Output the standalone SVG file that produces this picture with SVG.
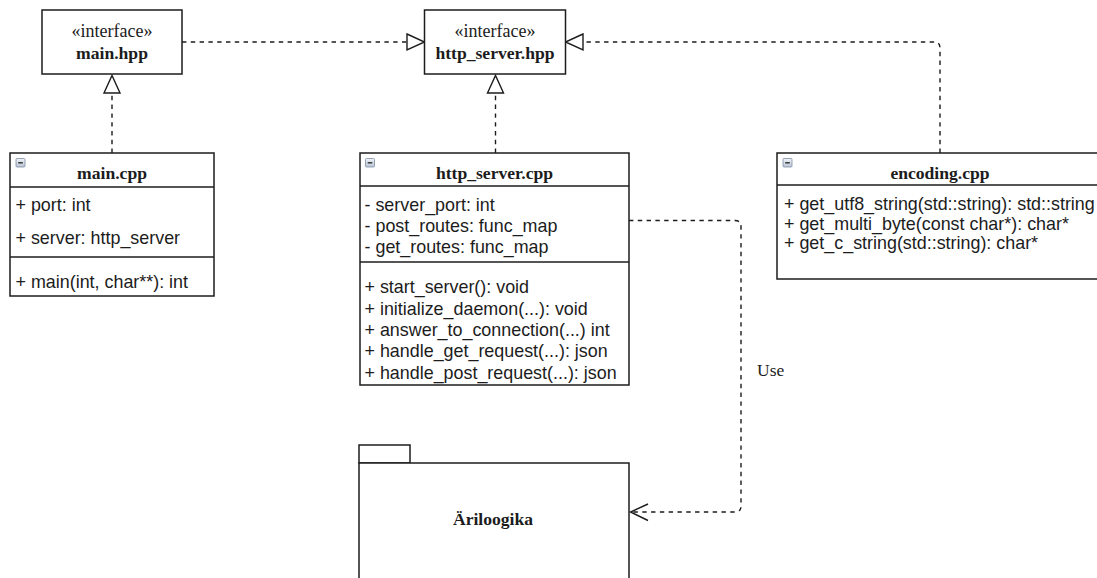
<svg xmlns="http://www.w3.org/2000/svg" width="1097" height="578" viewBox="0 0 1097 578">
  <style>
    .box { fill: #ffffff; stroke: #1c1c1c; stroke-width: 1.5; }
    .sep { stroke: #1c1c1c; stroke-width: 1.5; fill: none; }
    .edge { fill: none; stroke: #1c1c1c; stroke-width: 1.4; stroke-dasharray: 4.4 4.4; }
    .head { fill: #ffffff; stroke: #1c1c1c; stroke-width: 1.4; }
    .open { fill: none; stroke: #1c1c1c; stroke-width: 1.4; }
    .stereo { font-family: "Liberation Serif", serif; font-size: 18px; fill: #1c1c1c; text-anchor: middle; }
    .title { font-family: "Liberation Serif", serif; font-size: 17.6px; font-weight: bold; fill: #1c1c1c; text-anchor: middle; }
    .member { font-family: "Liberation Sans", Arial, sans-serif; font-size: 17.9px; fill: #1c1c1c; }
    .label { font-family: "Liberation Serif", serif; font-size: 17.5px; fill: #1c1c1c; }
    .tog { fill: url(#togFill); stroke: #7d8da3; stroke-width: 0.8; }
    .togbar { stroke: #2b2b2b; stroke-width: 1.4; }
  </style>
  <defs>
    <linearGradient id="togFill" x1="0" y1="0" x2="0" y2="1">
      <stop offset="0" stop-color="#f1f4f8"/>
      <stop offset="1" stop-color="#b9c5d6"/>
    </linearGradient>
  </defs>

  <rect width="1097" height="578" fill="#ffffff"/>

  <!-- connectors -->
  <g id="connectors">
    <!-- main.hpp realizes http_server.hpp -->
    <path class="edge" d="M182 42 H407"/>
    <polygon class="head" points="407,34 424.5,42 407,50"/>
    <!-- encoding.cpp realizes http_server.hpp -->
    <path class="edge" d="M940 153 V48 Q940 42 934 42 H583"/>
    <polygon class="head" points="583,34 565.5,42 583,50"/>
    <!-- main.cpp realizes main.hpp -->
    <path class="edge" d="M112 153 V93"/>
    <polygon class="head" points="104,93 112,75.5 120,93"/>
    <!-- http_server.cpp realizes http_server.hpp -->
    <path class="edge" d="M495.5 153 V93"/>
    <polygon class="head" points="487.5,93 495.5,75.5 503.5,93"/>
    <!-- http_server.cpp uses Äriloogika -->
    <path class="edge" d="M629 220.5 H735 Q741 220.5 741 226.5 V506 Q741 512 735 512 H631"/>
    <polyline class="open" points="648,504 630.5,512 648,520.5"/>
    <text class="label" x="757" y="376">Use</text>
  </g>

  <!-- interface main.hpp -->
  <g id="main_hpp">
    <rect class="box" x="42" y="10" width="140" height="64"/>
    <text class="stereo" x="112" y="36.5">«interface»</text>
    <text class="title" x="112" y="58.5">main.hpp</text>
  </g>

  <!-- interface http_server.hpp -->
  <g id="http_server_hpp">
    <rect class="box" x="424.5" y="10" width="141" height="64"/>
    <text class="stereo" x="495" y="36.5">«interface»</text>
    <text class="title" x="495" y="58.5">http_server.hpp</text>
  </g>

  <!-- class main.cpp -->
  <g id="main_cpp">
    <rect class="box" x="10" y="153" width="204" height="143"/>
    <line class="sep" x1="10" y1="187" x2="214" y2="187"/>
    <line class="sep" x1="10" y1="257" x2="214" y2="257"/>
    <rect class="tog" x="16" y="158.5" width="9" height="8.5" rx="1"/>
    <line class="togbar" x1="18.2" y1="162.8" x2="22.8" y2="162.8"/>
    <text class="title" x="112" y="178.5">main.cpp</text>
    <text class="member" x="15.5" y="211">+ port: int</text>
    <text class="member" x="15.5" y="244">+ server: http_server</text>
    <text class="member" x="15.5" y="288">+ main(int, char**): int</text>
  </g>

  <!-- class http_server.cpp -->
  <g id="http_server_cpp">
    <rect class="box" x="360" y="153" width="269" height="232"/>
    <line class="sep" x1="360" y1="186" x2="629" y2="186"/>
    <line class="sep" x1="360" y1="262" x2="629" y2="262"/>
    <rect class="tog" x="365.5" y="158.5" width="9" height="8.5" rx="1"/>
    <line class="togbar" x1="367.7" y1="162.8" x2="372.3" y2="162.8"/>
    <text class="title" x="494.5" y="178.5">http_server.cpp</text>
    <text class="member" x="364.5" y="210.5">- server_port: int</text>
    <text class="member" x="364.5" y="232">- post_routes: func_map</text>
    <text class="member" x="364.5" y="253">- get_routes: func_map</text>
    <text class="member" x="364.5" y="293">+ start_server(): void</text>
    <text class="member" x="364.5" y="314.5">+ initialize_daemon(...): void</text>
    <text class="member" x="364.5" y="336">+ answer_to_connection(...) int</text>
    <text class="member" x="364.5" y="357">+ handle_get_request(...): json</text>
    <text class="member" x="364.5" y="378.5">+ handle_post_request(...): json</text>
  </g>

  <!-- class encoding.cpp -->
  <g id="encoding_cpp">
    <rect class="box" x="777" y="153" width="330" height="126"/>
    <line class="sep" x1="777" y1="185" x2="1107" y2="185"/>
    <rect class="tog" x="783" y="158.5" width="9" height="8.5" rx="1"/>
    <line class="togbar" x1="785.2" y1="162.8" x2="789.8" y2="162.8"/>
    <text class="title" x="940" y="179">encoding.cpp</text>
    <text class="member" x="784" y="210">+ get_utf8_string(std::string): std::string</text>
    <text class="member" x="784" y="229.5">+ get_multi_byte(const char*): char*</text>
    <text class="member" x="784" y="249">+ get_c_string(std::string): char*</text>
  </g>

  <!-- package Äriloogika -->
  <g id="ariloogika">
    <rect class="box" x="359" y="445" width="51" height="18"/>
    <rect class="box" x="359" y="463" width="270" height="130"/>
    <text class="title" x="493" y="525">Äriloogika</text>
  </g>
</svg>
